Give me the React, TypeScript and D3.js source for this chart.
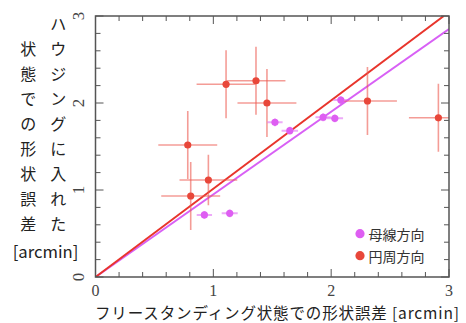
import React from 'react';
import * as d3 from 'd3';

// 円周方向 (red)
const redX = [1.108, 1.362, 1.455, 0.783, 0.958, 0.808, 2.308, 2.91];
const redY = [2.215, 2.256, 2.0, 1.517, 1.115, 0.931, 2.023, 1.83];
const redXErr = [0.25, 0.25, 0.25, 0.25, 0.245, 0.25, 0.25, 0.25];
const redYErr = [0.39, 0.39, 0.39, 0.39, 0.29, 0.39, 0.39, 0.39];
// 母線方向 (magenta)
const magX = [0.924, 1.139, 1.523, 1.649, 1.932, 2.031, 2.082];
const magY = [0.713, 0.732, 1.778, 1.682, 1.836, 1.824, 2.034];
const magXErr = [0.065, 0.068, 0.065, 0.07, 0.065, 0.07, 0.065];
const magYErr = [0.045, 0.045, 0.045, 0.045, 0.045, 0.045, 0.045];

const redSlope = 1.015;
const magSlope = 0.95;

const majorTicks = [0, 1, 2, 3];
const minorTicks = d3.range(0, 3.0001, 0.2);
const legendLabels = ['母線方向', '円周方向'];
const xLabel = 'フリースタンディング状態での形状誤差 [arcmin]';
const yLabelRight = 'ハウジングに入れた';
const yLabelLeft = '状態での形状誤差';
const yLabelUnit = '[arcmin]';

const RED = '#e8473a';
const RED_LINE = '#e8352c';
const RED_BAR = 'rgba(236,90,80,0.6)';
const MAG = '#de5ef2';
const MAG_LINE = '#d860f5';
const MAG_BAR = 'rgba(222,100,242,0.55)';
const AXIS = '#555';
const JP = '"Noto Sans CJK JP", "Noto Sans", sans-serif';
const SERIF = '"Liberation Serif", "DejaVu Serif", serif';

export default function App() {
  const W = 466, H = 323;
  const x = d3.scaleLinear().domain([0, 3]).range([95.5, 449]);
  const y = d3.scaleLinear().domain([0, 3]).range([277, 16]);
  const line = (s: number) =>
    d3.line<number>().x((d) => x(d)).y((d) => y(d * s));
  const xEnd = (s: number) => Math.min(3, 3 / s);

  return (
    <svg width={W} height={H} style={{ position: 'absolute', left: 0, top: 0 }}>
      <rect width={W} height={H} fill="white" />
      <defs>
        <clipPath id="plot">
          <rect x={x(0)} y={y(3)} width={x(3) - x(0)} height={y(0) - y(3)} />
        </clipPath>
      </defs>
      <g clipPath="url(#plot)">
        <path d={line(magSlope)([0, xEnd(magSlope)]) || ''} stroke={MAG_LINE} strokeWidth={2} fill="none" />
        <path d={line(redSlope)([0, xEnd(redSlope)]) || ''} stroke={RED_LINE} strokeWidth={2} fill="none" />
        {redX.map((v, i) => (
          <g key={'re' + i} stroke={RED_BAR} strokeWidth={1.6}>
            <line x1={x(v - redXErr[i])} x2={x(v + redXErr[i])} y1={y(redY[i])} y2={y(redY[i])} />
            <line x1={x(v)} x2={x(v)} y1={y(redY[i] - redYErr[i])} y2={y(redY[i] + redYErr[i])} />
          </g>
        ))}
        {magX.map((v, i) => (
          <g key={'me' + i} stroke={MAG_BAR} strokeWidth={2}>
            <line x1={x(v - magXErr[i])} x2={x(v + magXErr[i])} y1={y(magY[i])} y2={y(magY[i])} />
            <line x1={x(v)} x2={x(v)} y1={y(magY[i] - magYErr[i])} y2={y(magY[i] + magYErr[i])} />
          </g>
        ))}
        {magX.map((v, i) => (
          <circle key={'mp' + i} cx={x(v)} cy={y(magY[i])} r={3.6} fill={MAG} />
        ))}
        {redX.map((v, i) => (
          <circle key={'rp' + i} cx={x(v)} cy={y(redY[i])} r={3.6} fill={RED} />
        ))}
      </g>
      {/* ticks */}
      <g stroke={AXIS} strokeWidth={1}>
        {minorTicks.map((t, i) => {
          const major = Math.abs(t - Math.round(t)) < 1e-6;
          const L = major ? 8 : 5;
          return (
            <g key={'t' + i}>
              <line x1={x(t)} x2={x(t)} y1={y(0)} y2={y(0) - L} />
              <line x1={x(t)} x2={x(t)} y1={y(3)} y2={y(3) + L} />
              <line x1={x(0)} x2={x(0) + L} y1={y(t)} y2={y(t)} />
              <line x1={x(3)} x2={x(3) - L} y1={y(t)} y2={y(t)} />
            </g>
          );
        })}
      </g>
      <rect x={x(0)} y={y(3)} width={x(3) - x(0)} height={y(0) - y(3)} fill="none" stroke={AXIS} strokeWidth={1.5} />
      {majorTicks.map((t) => (
        <text key={'xl' + t} x={x(t)} y={290.5} textAnchor="middle" dominantBaseline="central" fontFamily={SERIF} fontSize={16} fill="#444">
          {t}
        </text>
      ))}
      {majorTicks.map((t) => (
        <text key={'yl' + t} transform={`translate(84,${y(t)}) rotate(-90)`} textAnchor="middle" fontFamily={SERIF} fontSize={17} fill="#444">
          {t}
        </text>
      ))}
      {/* legend */}
      {legendLabels.map((l, i) => (
        <g key={'lg' + i}>
          <circle cx={360} cy={233.7 + i * 22} r={4.6} fill={i === 0 ? MAG : RED} />
          <text x={368.5} y={233.7 + i * 22} dominantBaseline="central" fontFamily={JP} fontSize={14} fill="#333">
            {l}
          </text>
        </g>
      ))}
      {/* x label */}
      <text x={95} y={312} dominantBaseline="central" fontFamily={JP} fontSize={15.5} textLength={364} lengthAdjust="spacing" fill="#222">
        {xLabel}
      </text>
      {/* y label */}
      {yLabelRight.split('').map((c, i) => (
        <text key={'yr' + i} x={58.3} y={23.3 + 25 * i} textAnchor="middle" dominantBaseline="central" fontFamily={JP} fontSize={16} fill="#222">
          {c}
        </text>
      ))}
      {yLabelLeft.split('').map((c, i) => (
        <text key={'yll' + i} x={28.3} y={48.3 + 25 * i} textAnchor="middle" dominantBaseline="central" fontFamily={JP} fontSize={16} fill="#222">
          {c}
        </text>
      ))}
      <text x={45.5} y={250.5} textAnchor="middle" dominantBaseline="central" fontFamily={JP} fontSize={16.7} fill="#222">
        {yLabelUnit}
      </text>
    </svg>
  );
}
